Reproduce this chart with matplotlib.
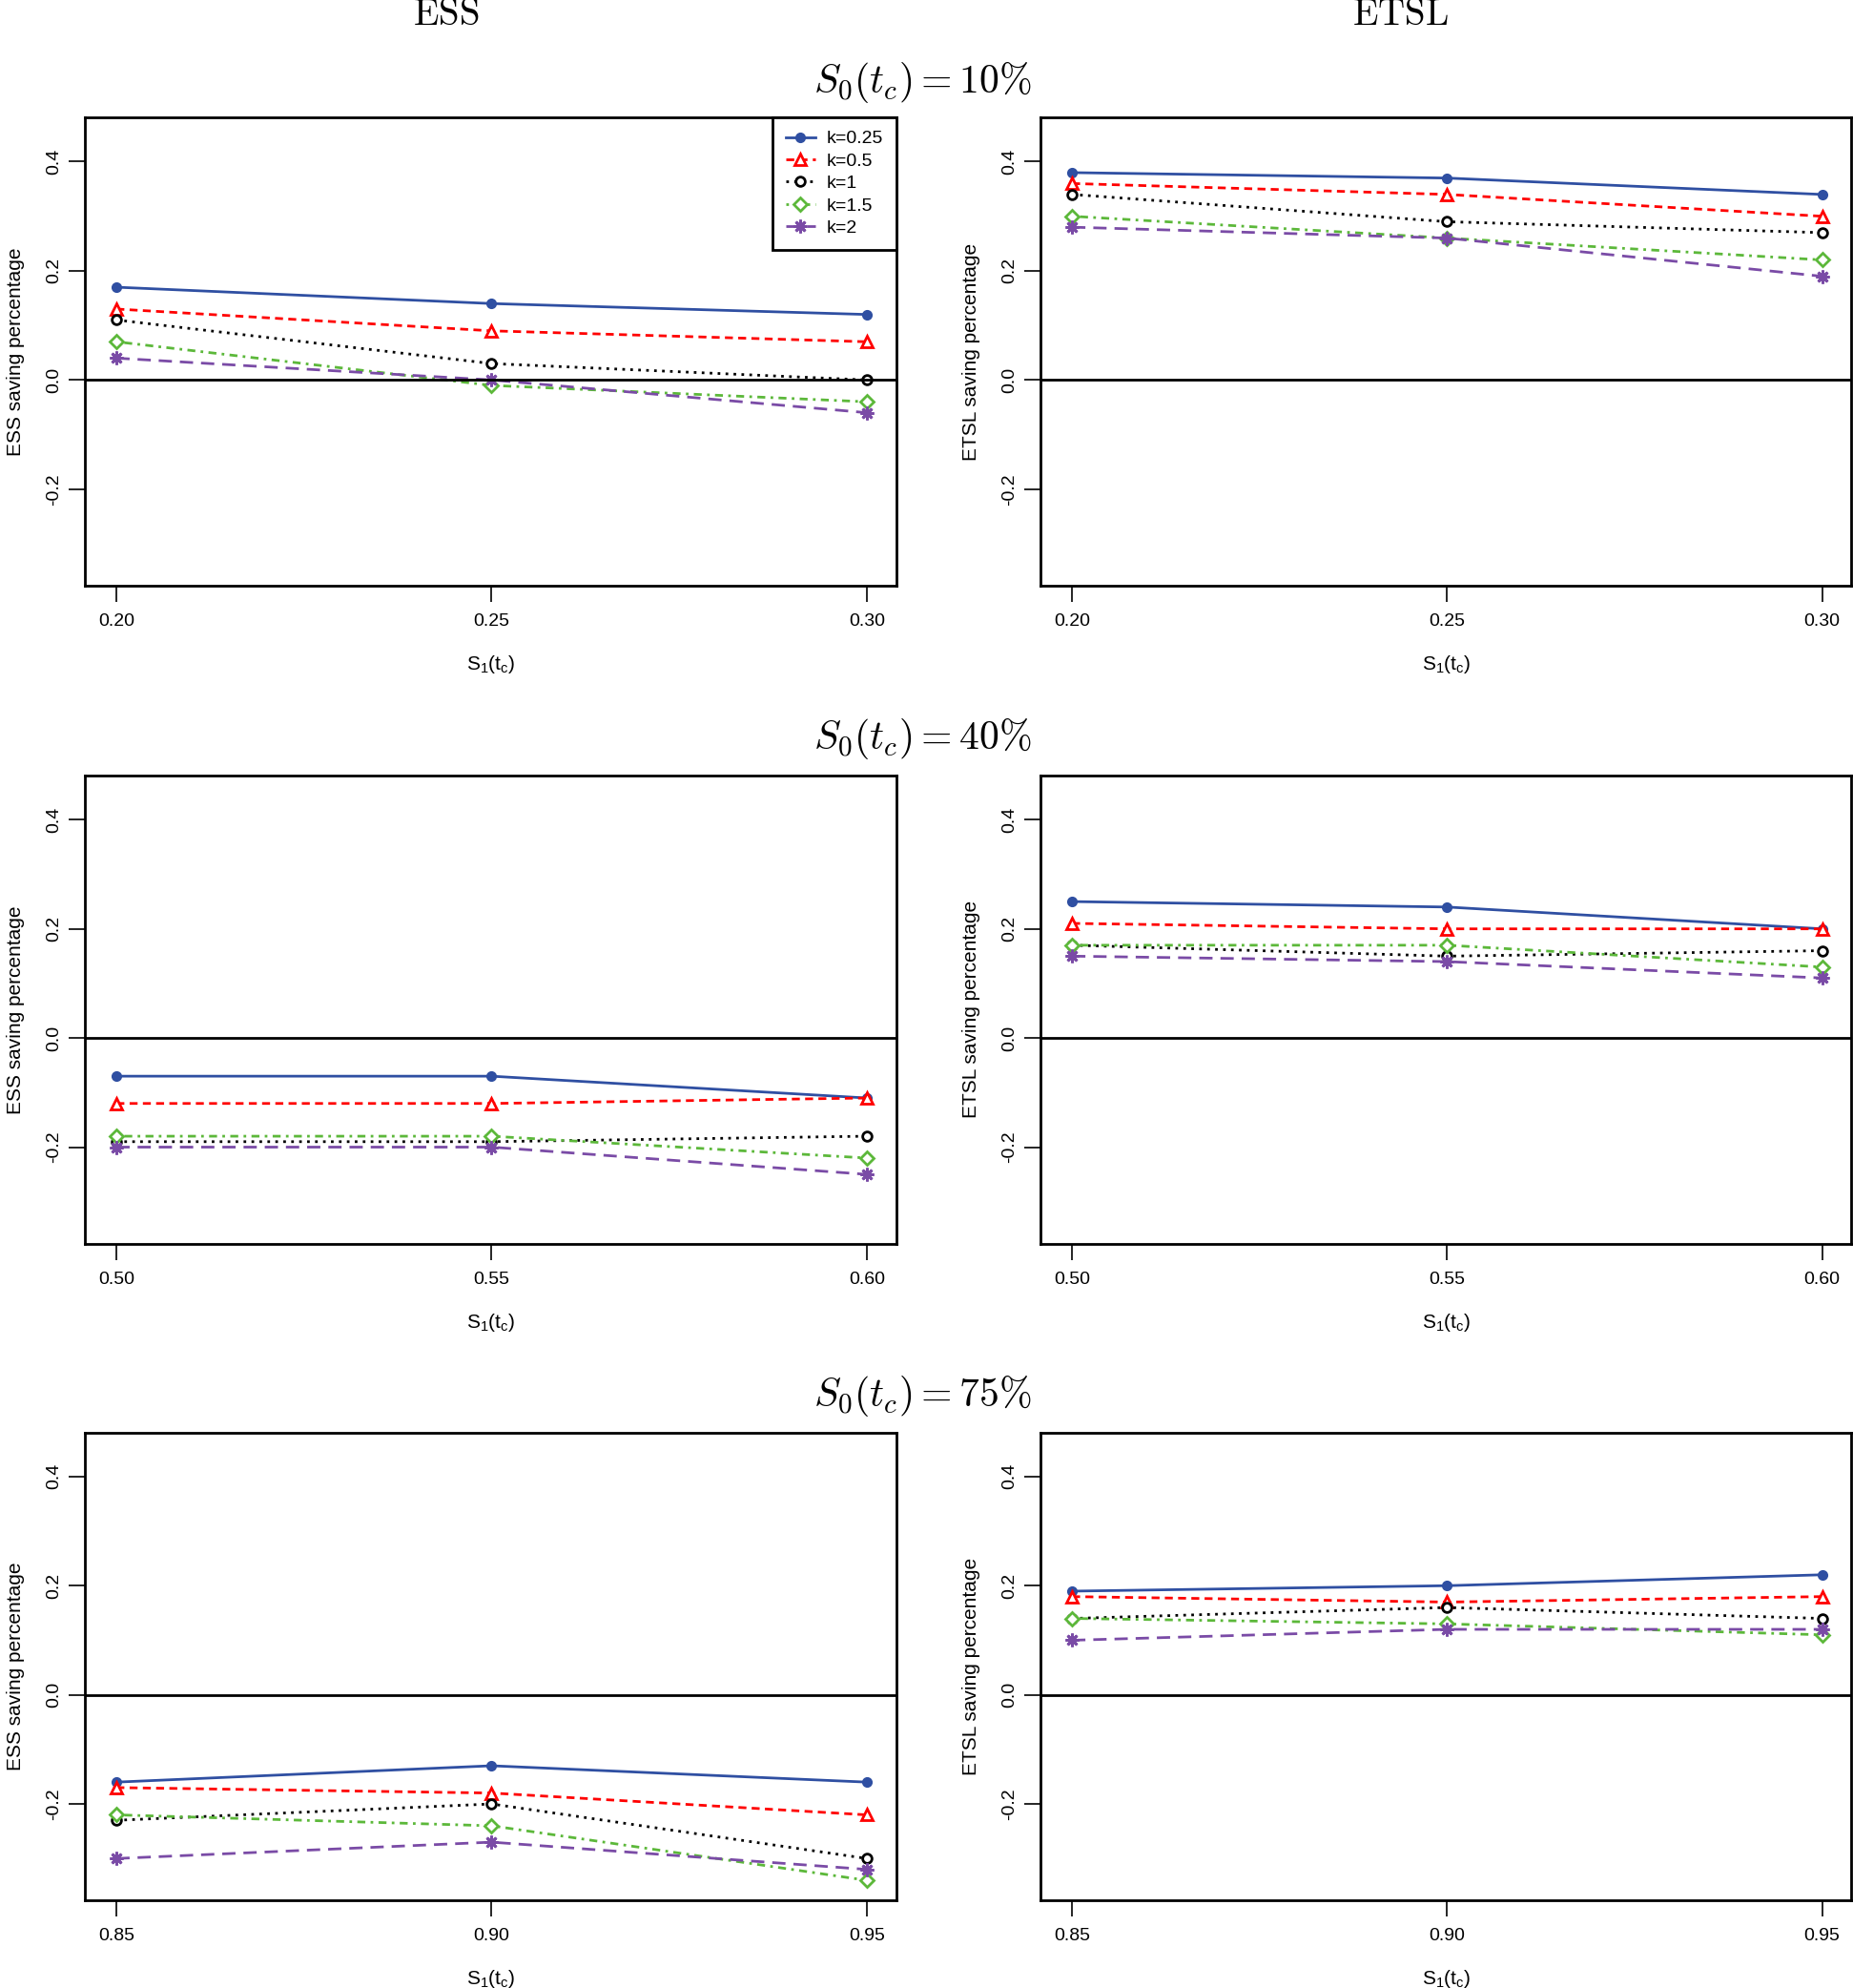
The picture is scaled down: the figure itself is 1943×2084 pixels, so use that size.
import matplotlib
matplotlib.use("Agg")
import matplotlib.pyplot as plt
import numpy as np

plt.rcParams['font.family'] = ['Liberation Sans Narrow', 'Liberation Sans', 'DejaVu Sans']
plt.rcParams['mathtext.fontset'] = 'cm'

# x values (S1(tc)) for each S0(tc) scenario
x_10 = [0.20, 0.25, 0.30]
x_40 = [0.50, 0.55, 0.60]
x_75 = [0.85, 0.90, 0.95]
row_titles = [r'$S_0(t_c) = 10\%$', r'$S_0(t_c) = 40\%$', r'$S_0(t_c) = 75\%$']
k_labels = ['k=0.25', 'k=0.5', 'k=1', 'k=1.5', 'k=2']

# ESS saving percentage, one list per k
ess_10 = [[0.17, 0.14, 0.12], [0.13, 0.09, 0.07], [0.11, 0.03, 0.00],
          [0.07, -0.01, -0.04], [0.04, 0.00, -0.06]]
ess_40 = [[-0.07, -0.07, -0.11], [-0.12, -0.12, -0.11], [-0.19, -0.19, -0.18],
          [-0.18, -0.18, -0.22], [-0.20, -0.20, -0.25]]
ess_75 = [[-0.16, -0.13, -0.16], [-0.17, -0.18, -0.22], [-0.23, -0.20, -0.30],
          [-0.22, -0.24, -0.34], [-0.30, -0.27, -0.32]]

# ETSL saving percentage, one list per k
etsl_10 = [[0.38, 0.37, 0.34], [0.36, 0.34, 0.30], [0.34, 0.29, 0.27],
           [0.30, 0.26, 0.22], [0.28, 0.26, 0.19]]
etsl_40 = [[0.25, 0.24, 0.20], [0.21, 0.20, 0.20], [0.17, 0.15, 0.16],
           [0.17, 0.17, 0.13], [0.15, 0.14, 0.11]]
etsl_75 = [[0.19, 0.20, 0.22], [0.18, 0.17, 0.18], [0.14, 0.16, 0.14],
           [0.14, 0.13, 0.11], [0.10, 0.12, 0.12]]

colors = ['#2f4fa2', '#ff0000', '#000000', '#5cb83a', '#7a4ba6']
styles = ['-', (0, (3, 2)), (0, (1, 2)), (0, (1, 2, 3, 2)), (0, (5, 3))]
markers = ['o', '^', 'o', 'D', (8, 2, 0)]
faces = [colors[0], 'white', 'white', 'white', colors[4]]
msizes = [6, 8, 7, 7, 10]

fig = plt.figure(figsize=(19.43, 20.84), dpi=100)

col_left = [0.0458, 0.5616]
col_width = [0.4378, 0.4375]
row_bottom = [0.7054, 0.3744, 0.0440]
row_height = 0.2355

rows = [(x_10, ess_10, etsl_10), (x_40, ess_40, etsl_40), (x_75, ess_75, etsl_75)]
ylabels = ['ESS saving percentage', 'ETSL saving percentage']

for r, (xv, ess, etsl) in enumerate(rows):
    for c, data in enumerate([ess, etsl]):
        ax = fig.add_axes([col_left[c], row_bottom[r], col_width[c], row_height])
        for i in range(5):
            ax.plot(xv, data[i], color=colors[i], linestyle=styles[i], lw=2,
                    marker=markers[i], markersize=msizes[i],
                    markerfacecolor=faces[i], markeredgecolor=colors[i],
                    markeredgewidth=2, label=k_labels[i])
        ax.axhline(0, color='black', lw=2)
        step = xv[2] - xv[0]
        ax.set_xlim(xv[0] - 0.042 * step, xv[2] + 0.039 * step)
        ax.set_ylim(-0.377, 0.481)
        ax.set_xticks(xv)
        ax.set_xticklabels(['%.2f' % v for v in xv])
        ax.set_yticks([-0.2, 0.0, 0.2, 0.4])
        ax.set_yticklabels(['-0.2', '0.0', '0.2', '0.4'], rotation=90, va='center')
        ax.tick_params(axis='x', labelsize=14, length=12, width=1.2, pad=9)
        ax.tick_params(axis='y', labelsize=14, length=12, width=1.2, pad=5)
        for s in ax.spines.values():
            s.set_linewidth(2)
        ax.set_xlabel(r'$\mathregular{S_1(t_c)}$', fontsize=15, labelpad=18)
        ax.set_ylabel(ylabels[c], fontsize=15, labelpad=16)
        if r == 0 and c == 0:
            leg = ax.legend(loc='upper right', fontsize=14, numpoints=1,
                            fancybox=False, framealpha=1, edgecolor='black',
                            borderaxespad=0, handlelength=1.6, labelspacing=0.3,
                            borderpad=0.7, handletextpad=0.6)
            leg.get_frame().set_linewidth(2)

fig.text(352 / 1462, 1 - 12 / 1568, r'$\mathrm{ESS}$', fontsize=28, ha='center', va='center')
fig.text(1105 / 1462, 1 - 12 / 1568, r'$\mathrm{ETSL}$', fontsize=28, ha='center', va='center')
for r, y in enumerate([65, 583, 1101]):
    fig.text(728 / 1462, 1 - y / 1568, row_titles[r], fontsize=30, ha='center', va='center')

fig.savefig('out.png', dpi=100)
plt.close(fig)
